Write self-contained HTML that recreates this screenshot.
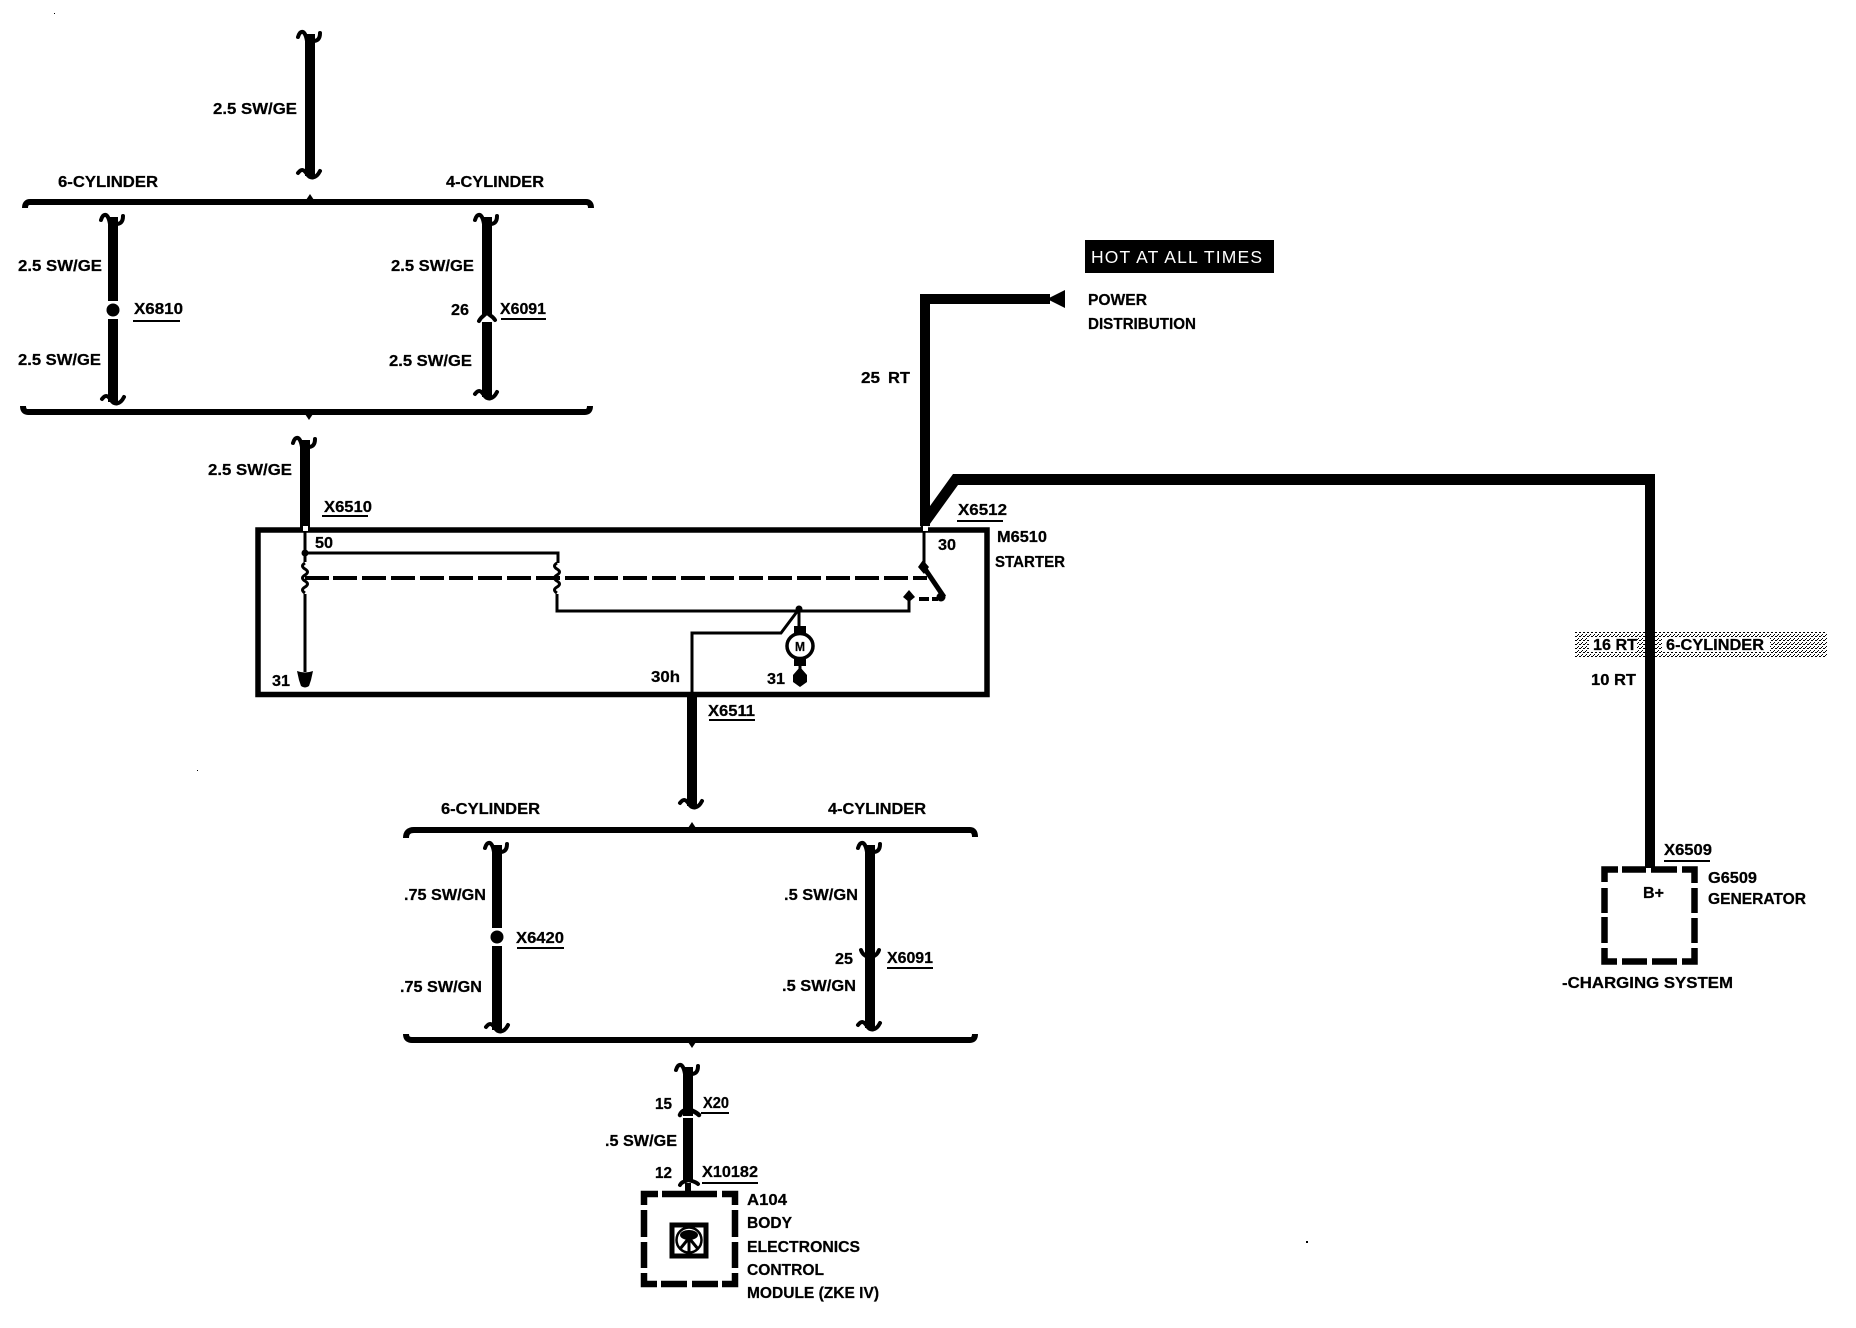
<!DOCTYPE html>
<html><head><meta charset="utf-8"><title>Starter wiring diagram</title>
<style>
html,body{margin:0;padding:0;background:#fff}
svg{display:block}
text{font-family:"Liberation Sans",sans-serif;font-weight:bold;font-size:16px;fill:#000;stroke:#000;stroke-width:.25}
.w{fill:none;stroke:#000;stroke-width:10}
.b{fill:none;stroke:#000;stroke-width:6;stroke-linejoin:miter}
.t{fill:none;stroke:#000;stroke-width:3}
.d{fill:none;stroke:#000;stroke-width:6.5;stroke-linejoin:miter}
.c{fill:none;stroke:#000;stroke-width:3.5;stroke-linecap:round}
</style></head><body>
<svg xmlns="http://www.w3.org/2000/svg" width="1856" height="1328" viewBox="0 0 1856 1328">
<defs>
<pattern id="dith" width="4" height="4" patternUnits="userSpaceOnUse">
<rect width="1" height="1" x="0" y="0"/><rect width="1" height="1" x="2" y="2"/><rect width="1" height="1" x="3" y="0"/><rect width="1" height="1" x="1" y="3"/>
</pattern>
<g id="ct"><path class="c" style="stroke-width:4" d="M-12 5C-10 -2 -5 -3 -3 9M10 1C10 9 5 9 3 9"/></g>
<g id="cb"><path class="c" style="stroke-width:4" d="M-12 -3C-8 -8 -6 -6 -3 -2C0 3 6 3 10 -5"/></g>
</defs>
<rect width="1856" height="1328" fill="#fff"/>

<!-- top section -->
<path class="w" d="M310 34V176"/>
<use href="#ct" x="310" y="32"/><use href="#cb" x="310" y="176"/>
<path class="b" d="M25 208Q25 202 30 202H586Q591 202 591 208"/>
<path d="M306 200L310 194L314 200Z"/>
<path class="b" d="M23 406Q23 412 28 412H585Q590 412 590 406"/>
<path d="M305 414L309 420L313 414Z"/>

<path class="w" d="M113 217V301M113 319V402"/>
<use href="#ct" x="113" y="215"/><use href="#cb" x="114" y="402"/>
<circle cx="113" cy="310" r="6.5"/>
<path class="w" d="M487 217V315M487 322V397"/>
<use href="#ct" x="487" y="215"/><use href="#cb" x="487" y="397"/>
<path class="c" style="stroke-width:4" d="M479 321C482 315 485 316 487 312C489 316 492 315 495 320"/>

<text x="213" y="114" textLength="84" lengthAdjust="spacingAndGlyphs">2.5 SW/GE</text>
<text x="58" y="187" textLength="100" lengthAdjust="spacingAndGlyphs">6-CYLINDER</text>
<text x="446" y="187" textLength="98" lengthAdjust="spacingAndGlyphs">4-CYLINDER</text>
<text x="18" y="271" textLength="84" lengthAdjust="spacingAndGlyphs">2.5 SW/GE</text>
<text x="391" y="271" textLength="83" lengthAdjust="spacingAndGlyphs">2.5 SW/GE</text>
<text x="134" y="314" textLength="49" lengthAdjust="spacingAndGlyphs">X6810</text>
<rect x="133" y="320" width="47" height="2"/>
<text x="451" y="315" textLength="18" lengthAdjust="spacingAndGlyphs">26</text>
<text x="500" y="314" textLength="46" lengthAdjust="spacingAndGlyphs">X6091</text>
<rect x="501" y="318" width="45" height="2"/>
<text x="18" y="365" textLength="83" lengthAdjust="spacingAndGlyphs">2.5 SW/GE</text>
<text x="389" y="366" textLength="83" lengthAdjust="spacingAndGlyphs">2.5 SW/GE</text>

<!-- starter -->
<path class="w" d="M305 440V528"/>
<use href="#ct" x="305" y="438"/>
<text x="208" y="475" textLength="84" lengthAdjust="spacingAndGlyphs">2.5 SW/GE</text>
<text x="324" y="512" textLength="48" lengthAdjust="spacingAndGlyphs">X6510</text>
<rect x="322" y="515" width="46" height="2"/>

<rect x="258" y="530" width="729" height="164.5" fill="none" stroke="#000" stroke-width="5.5"/>
<rect x="303" y="526" width="5" height="5" fill="#fff"/>
<path class="t" d="M305 532V562M305 594V672"/>
<path class="t" d="M305 553H558V563M557 594V611H909V597"/>
<circle cx="305" cy="553" r="3.5"/>
<path class="t" d="M305 563q-5 3 0 6q5 3 0 6q-5 3 0 6q5 3 0 6q-5 3 0 6"/>
<path class="t" d="M557 563q-5 3 0 6q5 3 0 6q-5 3 0 6q5 3 0 6q-5 3 0 6"/>
<path d="M305 578h24" stroke="#000" stroke-width="4"/>
<path d="M333 578H927" stroke="#000" stroke-width="4" stroke-dasharray="24 5" fill="none"/>
<path d="M297 671Q305 674 313 671L311 680L309 686Q305 689 301 686L299 680Z"/>
<text x="272" y="686" textLength="18" lengthAdjust="spacingAndGlyphs">31</text>
<text x="315" y="548" textLength="18" lengthAdjust="spacingAndGlyphs">50</text>

<path class="t" d="M924 532V566"/>
<path d="M923 560L929 567L924 574L918 567Z"/>
<path d="M923 566L944 597" stroke="#000" stroke-width="5" fill="none"/>
<circle cx="941" cy="597" r="4.5"/>
<rect x="919" y="597" width="10" height="4"/>
<rect x="932" y="597" width="6" height="4"/>
<path d="M909 590L915 597L909 602L903 597Z"/>
<text x="938" y="550" textLength="18" lengthAdjust="spacingAndGlyphs">30</text>

<circle cx="799" cy="609" r="3.5"/>
<path class="t" d="M799 609L781 633H692V694"/>
<path class="t" d="M799 609V628"/>
<rect x="794" y="626" width="12" height="9"/>
<rect x="794" y="657" width="12" height="9"/>
<ellipse cx="800" cy="646" rx="13" ry="12.5" fill="#fff" stroke="#000" stroke-width="3.5"/>
<text x="800" y="651" text-anchor="middle" style="font-size:13px" textLength="10" lengthAdjust="spacingAndGlyphs">M</text>
<path class="t" d="M800 664V672"/>
<path d="M800 667L807 675L807 682L800 687L793 682L793 675Z"/>
<text x="767" y="684" textLength="18" lengthAdjust="spacingAndGlyphs">31</text>
<text x="651" y="682" textLength="29" lengthAdjust="spacingAndGlyphs">30h</text>

<path class="w" d="M692 697V806"/>
<use href="#cb" x="692" y="806"/>
<text x="708" y="716" textLength="47" lengthAdjust="spacingAndGlyphs">X6511</text>
<rect x="709" y="719" width="46" height="2"/>

<!-- red wires -->
<path class="w" d="M925 526V299H1050"/>
<path d="M1047 299L1065 290V308Z"/>
<path d="M920 528L927 528L958 485H1655V474H953L930 506Z"/>
<path d="M1645 474H1655V868H1645Z"/>
<rect x="923" y="526" width="5" height="5" fill="#fff"/>
<text x="861" y="383" textLength="19" lengthAdjust="spacingAndGlyphs">25</text>
<text x="888" y="383" textLength="22" lengthAdjust="spacingAndGlyphs">RT</text>
<rect x="1085" y="240" width="189" height="33"/>
<text x="1091" y="263" textLength="171" lengthAdjust="spacing" style="fill:#fff;stroke:none;font-weight:normal;font-size:17.5px">HOT AT ALL TIMES</text>
<text x="1088" y="305" textLength="59" lengthAdjust="spacingAndGlyphs">POWER</text>
<text x="1088" y="329" textLength="108" lengthAdjust="spacingAndGlyphs">DISTRIBUTION</text>
<text x="958" y="515" textLength="49" lengthAdjust="spacingAndGlyphs">X6512</text>
<rect x="957" y="520" width="46" height="2"/>
<text x="997" y="542" textLength="50" lengthAdjust="spacingAndGlyphs">M6510</text>
<text x="995" y="567" textLength="70" lengthAdjust="spacingAndGlyphs">STARTER</text>

<!-- lower section -->
<path class="b" d="M406 838Q406 830 414 830H970Q975 830 975 837"/>
<path d="M688 828L692 822L696 828Z"/>
<path class="b" d="M406 1034Q406 1040 412 1040H970Q975 1040 975 1034"/>
<path d="M688 1042L692 1048L696 1042Z"/>
<path class="w" d="M497 845V928M497 946V1030"/>
<use href="#ct" x="497" y="843"/><use href="#cb" x="498" y="1030"/>
<circle cx="497" cy="937" r="6.5"/>
<path class="w" d="M870 845V1028"/>
<use href="#ct" x="870" y="843"/><use href="#cb" x="870" y="1028"/>
<path class="c" style="stroke-width:4" d="M861 950C863 956 867 956 870 958C873 956 877 956 879 950"/>
<text x="441" y="814" textLength="99" lengthAdjust="spacingAndGlyphs">6-CYLINDER</text>
<text x="828" y="814" textLength="98" lengthAdjust="spacingAndGlyphs">4-CYLINDER</text>
<text x="404" y="900" textLength="82" lengthAdjust="spacingAndGlyphs">.75 SW/GN</text>
<text x="784" y="900" textLength="74" lengthAdjust="spacingAndGlyphs">.5 SW/GN</text>
<text x="516" y="943" textLength="48" lengthAdjust="spacingAndGlyphs">X6420</text>
<rect x="517" y="947" width="47" height="2"/>
<text x="835" y="964" textLength="18" lengthAdjust="spacingAndGlyphs">25</text>
<text x="887" y="963" textLength="46" lengthAdjust="spacingAndGlyphs">X6091</text>
<rect x="887" y="967" width="46" height="2"/>
<text x="400" y="992" textLength="82" lengthAdjust="spacingAndGlyphs">.75 SW/GN</text>
<text x="782" y="991" textLength="74" lengthAdjust="spacingAndGlyphs">.5 SW/GN</text>

<!-- body module -->
<path class="w" d="M688 1067V1181"/>
<use href="#ct" x="688" y="1065"/>
<path class="c" style="stroke-width:4.5" d="M680 1115C682 1110 685 1111 688 1108C691 1111 695 1111 699 1115"/>
<rect x="682" y="1116" width="12" height="2" fill="#fff"/>
<path class="c" style="stroke-width:4" d="M680 1185C682 1181 685 1182 688 1180C691 1181 695 1181 698 1184"/>
<path d="M685 1183H691V1194H685Z"/>
<text x="655" y="1109" textLength="17" lengthAdjust="spacingAndGlyphs">15</text>
<text x="703" y="1108" textLength="26" lengthAdjust="spacingAndGlyphs">X20</text>
<rect x="701" y="1112" width="28" height="2"/>
<text x="605" y="1146" textLength="72" lengthAdjust="spacingAndGlyphs">.5 SW/GE</text>
<text x="655" y="1178" textLength="17" lengthAdjust="spacingAndGlyphs">12</text>
<text x="702" y="1177" textLength="56" lengthAdjust="spacingAndGlyphs">X10182</text>
<rect x="702" y="1182" width="56" height="2"/>
<path class="d" d="M644 1205V1194H658M662 1194H717M722 1194H735V1205M644 1210V1237M644 1242V1268M644 1273V1284H657M661 1284H687M692 1284H718M722 1284H735V1273M735 1210V1237M735 1242V1268"/>
<rect x="672" y="1225" width="34" height="31" fill="#fff" stroke="#000" stroke-width="5"/>
<circle cx="689" cy="1240" r="12.5" fill="#fff" stroke="#000" stroke-width="2.5"/>
<ellipse cx="689" cy="1235" rx="9" ry="5"/>
<path d="M689 1238L680 1249M689 1238L698 1249M689 1238V1252" stroke="#000" stroke-width="3" fill="none"/>
<text x="747" y="1205" textLength="40" lengthAdjust="spacingAndGlyphs">A104</text>
<text x="747" y="1228" textLength="45" lengthAdjust="spacingAndGlyphs">BODY</text>
<text x="747" y="1252" textLength="113" lengthAdjust="spacingAndGlyphs">ELECTRONICS</text>
<text x="747" y="1275" textLength="77" lengthAdjust="spacingAndGlyphs">CONTROL</text>
<text x="747" y="1298" textLength="132" lengthAdjust="spacingAndGlyphs">MODULE (ZKE IV)</text>

<!-- generator -->
<rect x="1575" y="632" width="252" height="26" fill="url(#dith)"/>
<rect x="1589" y="637" width="48" height="15" fill="#fff"/>
<rect x="1662" y="637" width="108" height="15" fill="#fff"/>
<path d="M1645 620H1655V700H1645Z"/>
<text x="1593" y="650" textLength="44" lengthAdjust="spacingAndGlyphs">16 RT</text>
<text x="1666" y="650" textLength="98" lengthAdjust="spacingAndGlyphs">6-CYLINDER</text>
<text x="1591" y="685" textLength="45" lengthAdjust="spacingAndGlyphs">10 RT</text>
<text x="1664" y="855" textLength="48" lengthAdjust="spacingAndGlyphs">X6509</text>
<rect x="1664" y="860" width="46" height="2"/>
<path class="d" d="M1604.5 882V869.5H1618M1622 869.5H1646M1651 869.5H1677M1682 869.5H1694.5V883M1604.5 888V913M1604.5 917V943M1604.5 948V961.5H1617M1622 961.5H1647M1652 961.5H1677M1682 961.5H1694.5V948M1694.5 888V913M1694.5 918V943"/>
<text x="1643" y="898" textLength="21" lengthAdjust="spacingAndGlyphs">B+</text>
<text x="1708" y="883" textLength="49" lengthAdjust="spacingAndGlyphs">G6509</text>
<text x="1708" y="904" textLength="98" lengthAdjust="spacingAndGlyphs">GENERATOR</text>
<text x="1562" y="988" textLength="171" lengthAdjust="spacingAndGlyphs">-CHARGING SYSTEM</text>
<rect x="197" y="770" width="1" height="1"/><rect x="1306" y="1241" width="2" height="2"/><rect x="54" y="13" width="1" height="1"/>
</svg>
</body></html>
